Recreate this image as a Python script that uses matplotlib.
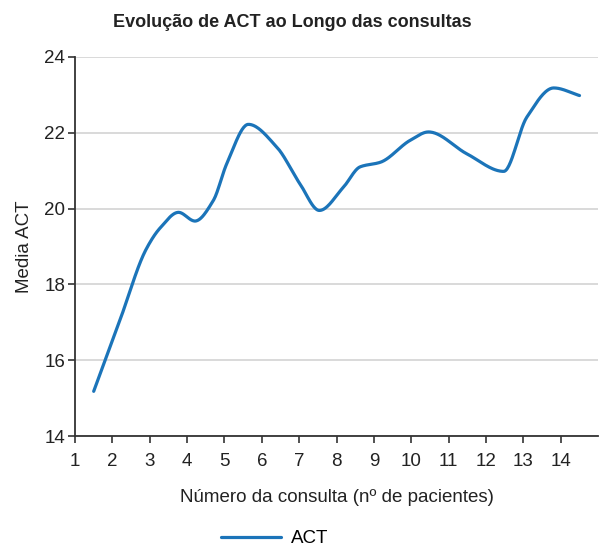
import numpy as np
import matplotlib
matplotlib.use('Agg')
import matplotlib.pyplot as plt

plt.rcParams['font.family'] = ['Liberation Sans', 'DejaVu Sans']

# pontos (posição no eixo x, média ACT)
curve_x = [1.5, 2.2, 2.9, 3.28, 3.77, 4.21, 4.70, 5.06, 5.64, 6.40, 7.02, 7.54,
           8.18, 8.63, 9.17, 9.97, 10.46, 11.49, 12.47, 13.09, 13.81, 14.5]
act_media = [15.18, 17.05, 18.92, 19.49, 19.90, 19.67, 20.21, 21.18, 22.22, 21.62, 20.65, 19.95,
             20.56, 21.10, 21.22, 21.80, 22.02, 21.44, 20.98, 22.41, 23.18, 22.98]
consultas = list(range(1, 15))
y_ticks = [14, 16, 18, 20, 22, 24]


def suavizar(x, y, n=600):
    # interpolação cúbica monotona (tipo PCHIP) so para desenhar a linha
    x = np.asarray(x, float)
    y = np.asarray(y, float)
    h = np.diff(x)
    d = np.diff(y) / h
    m = np.zeros(len(x))
    m[0], m[-1] = d[0], d[-1]
    for k in range(1, len(x) - 1):
        if d[k - 1] * d[k] > 0:
            w1 = 2 * h[k] + h[k - 1]
            w2 = h[k] + 2 * h[k - 1]
            m[k] = (w1 + w2) / (w1 / d[k - 1] + w2 / d[k])
    xn = np.linspace(x[0], x[-1], n)
    i = np.clip(np.searchsorted(x, xn) - 1, 0, len(x) - 2)
    t = (xn - x[i]) / h[i]
    h00 = 2 * t**3 - 3 * t**2 + 1
    h10 = t**3 - 2 * t**2 + t
    h01 = -2 * t**3 + 3 * t**2
    h11 = t**3 - t**2
    yn = h00 * y[i] + h10 * h[i] * m[i] + h01 * y[i + 1] + h11 * h[i] * m[i + 1]
    return xn, yn


fig = plt.figure(figsize=(6, 5.52), dpi=100)
ax = fig.add_axes([0.125, 0.21, 0.872, 0.687])

xs, ys = suavizar(curve_x, act_media)
ax.plot(xs, ys, color='#1b74b9', lw=2.3, solid_capstyle='round', label='ACT')

ax.set_xlim(1, 15)
ax.set_ylim(14, 24)
ax.set_xticks(consultas)
ax.set_yticks(y_ticks)
ax.grid(axis='y', color='#d3d3d3', lw=1.2)
ax.set_axisbelow(True)
for s in ['top', 'right']:
    ax.spines[s].set_visible(False)
for s in ['left', 'bottom']:
    ax.spines[s].set_color('#333333')
    ax.spines[s].set_linewidth(1.3)
ax.tick_params(length=5, width=1.2, color='#333333', labelsize=13.5, labelcolor='#222222')
ax.tick_params(axis='x', pad=7)
ax.tick_params(axis='y', pad=2)

fig.suptitle('Evolução de ACT ao Longo das consultas', x=0.487, y=0.975, fontsize=13,
             fontweight='bold', color='#222222')
ax.set_xlabel('Número da consulta (nº de pacientes)', fontsize=13.5, color='#222222', labelpad=14)
ax.set_ylabel('Media ACT', fontsize=13.5, color='#222222', labelpad=8)

fig.legend(loc='lower center', bbox_to_anchor=(0.458, -0.022), frameon=False,
           fontsize=13.5, handlelength=3.2, handletextpad=0.5)

fig.savefig('out.png', dpi=100)
